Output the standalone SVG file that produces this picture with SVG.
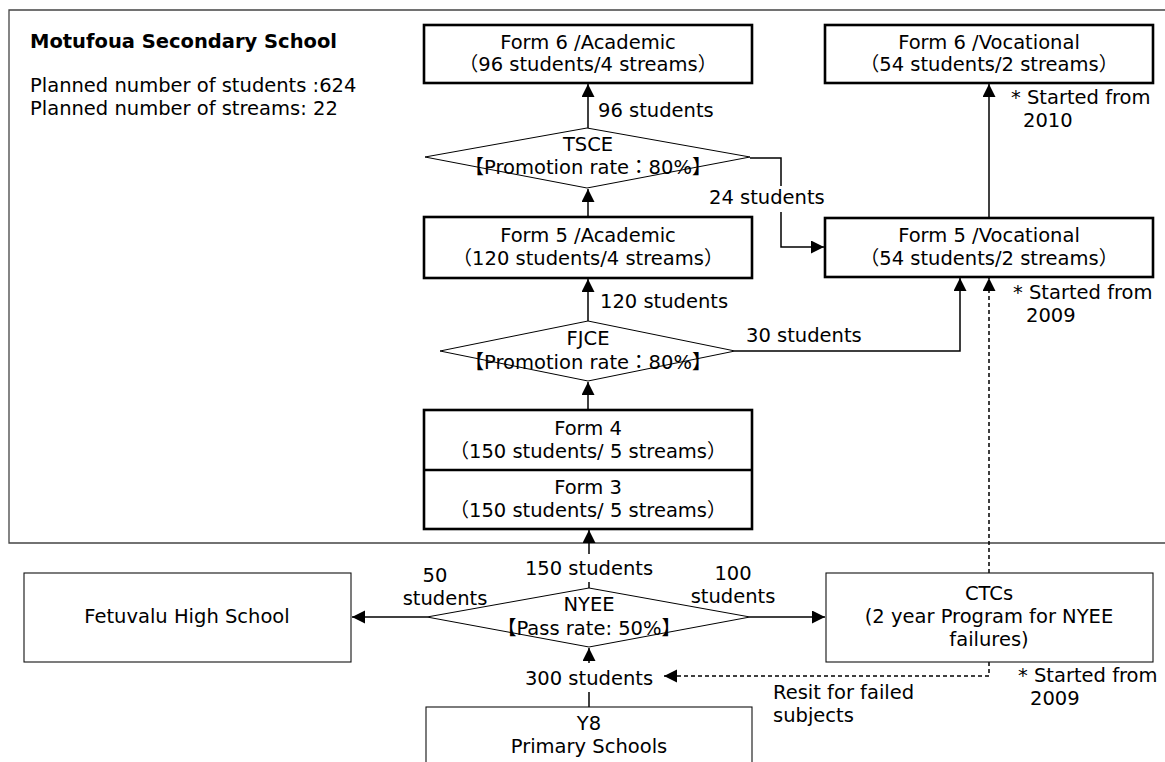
<svg xmlns="http://www.w3.org/2000/svg" width="1165" height="762" viewBox="0 0 1165 762">
<style>
text{font-family:"DejaVu Sans","Noto Sans CJK JP",sans-serif;font-size:19.5px;fill:#000}
.c{text-anchor:middle}
.b{font-weight:bold}
.thick{fill:#fff;stroke:#000;stroke-width:2.6}
.thin{fill:#fff;stroke:#111;stroke-width:1.1}
.dia{fill:#fff;stroke:#000;stroke-width:1}
.ln{fill:none;stroke:#000;stroke-width:1.5}
.dash{fill:none;stroke:#000;stroke-width:1.5;stroke-dasharray:4,3}
</style>
<defs>
<marker id="ah" markerUnits="userSpaceOnUse" markerWidth="15" markerHeight="15" refX="13" refY="6.5" orient="auto">
<path d="M0,0 L13,6.5 L0,13 z" fill="#000" stroke="none"/>
</marker>
</defs>
<rect width="1165" height="762" fill="#fff"/>
<g id="frame">
<path d="M1170,10 H9 V543 H1170" fill="none" stroke="#444" stroke-width="1.3"/>
<text x="30" y="48" class="b">Motufoua Secondary School</text>
<text x="30" y="92">Planned number of students :624</text>
<text x="30" y="115">Planned number of streams: 22</text>
</g>
<g id="connectors">
<path class="ln" d="M588,128 V84" marker-end="url(#ah)"/>
<path class="ln" d="M750,158 H781 V186"/>
<path class="ln" d="M781,212 V247 H824" marker-end="url(#ah)"/>
<path class="ln" d="M588,217 V189" marker-end="url(#ah)"/>
<path class="ln" d="M588,321 V279" marker-end="url(#ah)"/>
<path class="ln" d="M735,351 H960 V278" marker-end="url(#ah)"/>
<path class="ln" d="M588,410 V382" marker-end="url(#ah)"/>
<path class="ln" d="M989,218 V84" marker-end="url(#ah)"/>
<path class="ln" d="M589,554 V530" marker-end="url(#ah)"/>
<path class="ln" d="M589,588 V582"/>
<path class="ln" d="M427,617 H352" marker-end="url(#ah)"/>
<path class="ln" d="M750,617 H825" marker-end="url(#ah)"/>
<path class="ln" d="M589,707 V692"/>
<path class="ln" d="M589,663 V648" marker-end="url(#ah)"/>
<path class="dash" d="M989,573 V278" marker-end="url(#ah)"/>
<path class="dash" d="M989,662 V676 H664" marker-end="url(#ah)"/>
</g>
<g id="form6a">
<rect class="thick" x="424" y="25" width="328" height="58"/>
<text class="c" x="588" y="49">Form 6 /Academic</text>
<text class="c" x="588" y="71">（96 students/4 streams）</text>
</g>
<g id="form6v">
<rect class="thick" x="825" y="25" width="328" height="58"/>
<text class="c" x="989" y="49">Form 6 /Vocational</text>
<text class="c" x="989" y="71">（54 students/2 streams）</text>
</g>
<g id="tsce">
<polygon class="dia" points="425,157 587,128 750,157 587,188"/>
<text class="c" x="588" y="151">TSCE</text>
<text class="c" x="588" y="174">【Promotion rate：80%】</text>
</g>
<g id="form5a">
<rect class="thick" x="424" y="217" width="328" height="61"/>
<text class="c" x="588" y="242">Form 5 /Academic</text>
<text class="c" x="588" y="265">（120 students/4 streams）</text>
</g>
<g id="form5v">
<rect class="thick" x="825" y="218" width="328" height="59"/>
<text class="c" x="989" y="242">Form 5 /Vocational</text>
<text class="c" x="989" y="265">（54 students/2 streams）</text>
</g>
<g id="fjce">
<polygon class="dia" points="440,351 588,321 735,351 588,381"/>
<text class="c" x="588" y="345">FJCE</text>
<text class="c" x="588" y="369">【Promotion rate：80%】</text>
</g>
<g id="form43">
<rect class="thick" x="424" y="410" width="328" height="119"/>
<line x1="424" y1="470" x2="752" y2="470" stroke="#000" stroke-width="2.6"/>
<text class="c" x="588" y="435">Form 4</text>
<text class="c" x="588" y="458">（150 students/ 5 streams）</text>
<text class="c" x="588" y="494">Form 3</text>
<text class="c" x="588" y="517">（150 students/ 5 streams）</text>
</g>
<g id="nyee">
<polygon class="dia" points="427,617 589,588 750,617 589,647"/>
<text class="c" x="589" y="611">NYEE</text>
<text class="c" x="589" y="635">【Pass rate: 50%】</text>
</g>
<g id="fetuvalu">
<rect class="thin" x="24" y="573" width="327" height="89"/>
<text class="c" x="187" y="623">Fetuvalu High School</text>
</g>
<g id="ctcs">
<rect class="thin" x="826" y="573" width="327" height="89"/>
<text class="c" x="989" y="600">CTCs</text>
<text class="c" x="989" y="623">(2 year Program for NYEE</text>
<text class="c" x="989" y="646">failures)</text>
</g>
<g id="y8">
<rect class="thin" x="426" y="707" width="326" height="70"/>
<text class="c" x="589" y="730">Y8</text>
<text class="c" x="589" y="753">Primary Schools</text>
</g>
<g id="labels">
<text x="598" y="117">96 students</text>
<text x="709" y="204">24 students</text>
<text x="600" y="308">120 students</text>
<text x="746" y="342">30 students</text>
<text class="c" x="589" y="575">150 students</text>
<text class="c" x="589" y="685">300 students</text>
<text class="c" x="435" y="582">50</text>
<text class="c" x="445" y="605">students</text>
<text class="c" x="733" y="580">100</text>
<text class="c" x="733" y="603">students</text>
<text x="773" y="699">Resit for failed</text>
<text x="773" y="722">subjects</text>
<text x="1011" y="104">* Started from</text>
<text x="1023" y="127">2010</text>
<text x="1013" y="299">* Started from</text>
<text x="1026" y="322">2009</text>
<text x="1018" y="682">* Started from</text>
<text x="1030" y="705">2009</text>
</g>
</svg>
